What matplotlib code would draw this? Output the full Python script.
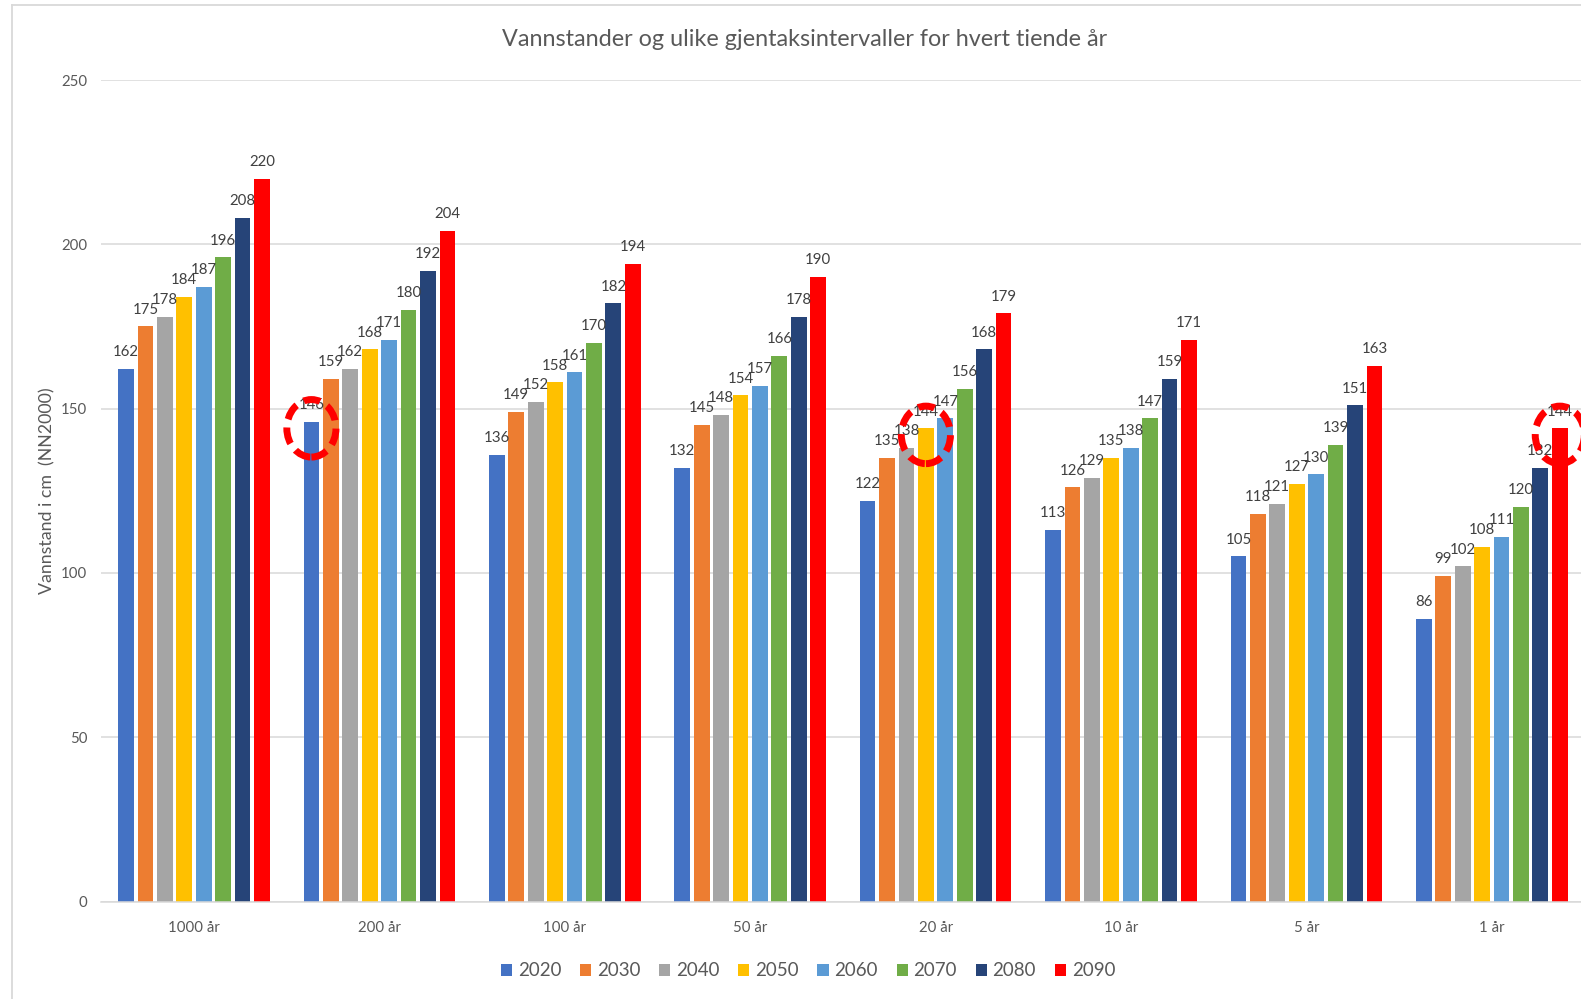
import matplotlib
matplotlib.use("Agg")
import matplotlib.pyplot as plt
from matplotlib.patches import Ellipse, Patch
from matplotlib.lines import Line2D
import numpy as np

plt.rcParams['font.family'] = ['Lato', 'DejaVu Sans']

categories = ["1000 år", "200 år", "100 år", "50 år", "20 år", "10 år", "5 år", "1 år"]
years = ["2020", "2030", "2040", "2050", "2060", "2070", "2080", "2090"]
v2020 = [162, 146, 136, 132, 122, 113, 105, 86]
v2030 = [175, 159, 149, 145, 135, 126, 118, 99]
v2040 = [178, 162, 152, 148, 138, 129, 121, 102]
v2050 = [184, 168, 158, 154, 144, 135, 127, 108]
v2060 = [187, 171, 161, 157, 147, 138, 130, 111]
v2070 = [196, 180, 170, 166, 156, 147, 139, 120]
v2080 = [208, 192, 182, 178, 168, 159, 151, 132]
v2090 = [220, 204, 194, 190, 179, 171, 163, 144]
series = [v2020, v2030, v2040, v2050, v2060, v2070, v2080, v2090]
colors = ["#4472C4", "#ED7D31", "#A5A5A5", "#FFC000", "#5B9BD5", "#70AD47", "#264478", "#FF0000"]
# highlighted (category index, series index)
highlights = [(1, 0), (4, 3), (7, 7)]

txt = "#595959"
fig = plt.figure(figsize=(15.81, 9.99), dpi=100)
ax = fig.add_axes([101.3/1581, (999-901.5)/999, 1 - 101.3/1581, (901.5-80)/999])

step = 0.1048
width = 0.085
x = np.arange(len(categories))
for j, (vals, c, yr) in enumerate(zip(series, colors, years)):
    xs = x + (j - 3.5) * step
    ax.bar(xs, vals, width, color=c, label=yr, zorder=2)
    for xi, v in zip(xs, vals):
        ax.annotate(str(v), (xi, v), xytext=(0, 7), textcoords="offset points",
                    ha="center", va="bottom", fontsize=10.8, color="#404040", zorder=3)

for ci, sj in highlights:
    xc = ci + (sj - 3.5) * step
    yc = series[sj][ci] - 2
    ax.add_patch(Ellipse((xc, yc), 0.265, 17.5, fill=False, edgecolor="#FF0000",
                         lw=5, linestyle=(0, (2.4, 1.2)), zorder=5, clip_on=False))

ax.set_xlim(-0.5, (1581 - 194) / 185.4)
ax.set_ylim(0, 250)
ax.set_yticks([0, 50, 100, 150, 200, 250])
ax.set_xticks(x)
ax.set_xticklabels(categories)
ax.tick_params(axis="both", length=0, colors=txt, labelsize=10.8)
ax.tick_params(axis="y", pad=10)
ax.tick_params(axis="x", pad=14)
ax.grid(axis="y", color="#D9D9D9", lw=1.1, zorder=0)
for s in ["top", "right", "left"]:
    ax.spines[s].set_visible(False)
ax.spines["bottom"].set_color("#D9D9D9")
ax.spines["bottom"].set_linewidth(1.1)

ax.set_ylabel("Vannstand i cm  (NN2000)", color=txt, fontsize=12.8, labelpad=4)

fig.text(805/1581, 1 - 39/999, "Vannstander og ulike gjentaksintervaller for hvert tiende år",
         ha="center", va="center", fontsize=16.8, color=txt)

handles = [Patch(facecolor=c, edgecolor="none") for c in colors]
fig.legend(handles, years, loc="center", bbox_to_anchor=(808/1581, 1 - 971/999), ncol=8,
           frameon=False, fontsize=13.5, labelcolor=txt, handlelength=0.6, handleheight=0.6,
           handletextpad=0.3, columnspacing=1.0)

# chart border (left and top visible)
fig.add_artist(Line2D([11.5/1581, 11.5/1581], [0, 1 - 4.5/999], transform=fig.transFigure,
                      color="#D9D9D9", lw=1.3))
fig.add_artist(Line2D([11.5/1581, 1], [1 - 4.5/999, 1 - 4.5/999], transform=fig.transFigure,
                      color="#D9D9D9", lw=1.3))

fig.savefig("out.png", dpi=100)
